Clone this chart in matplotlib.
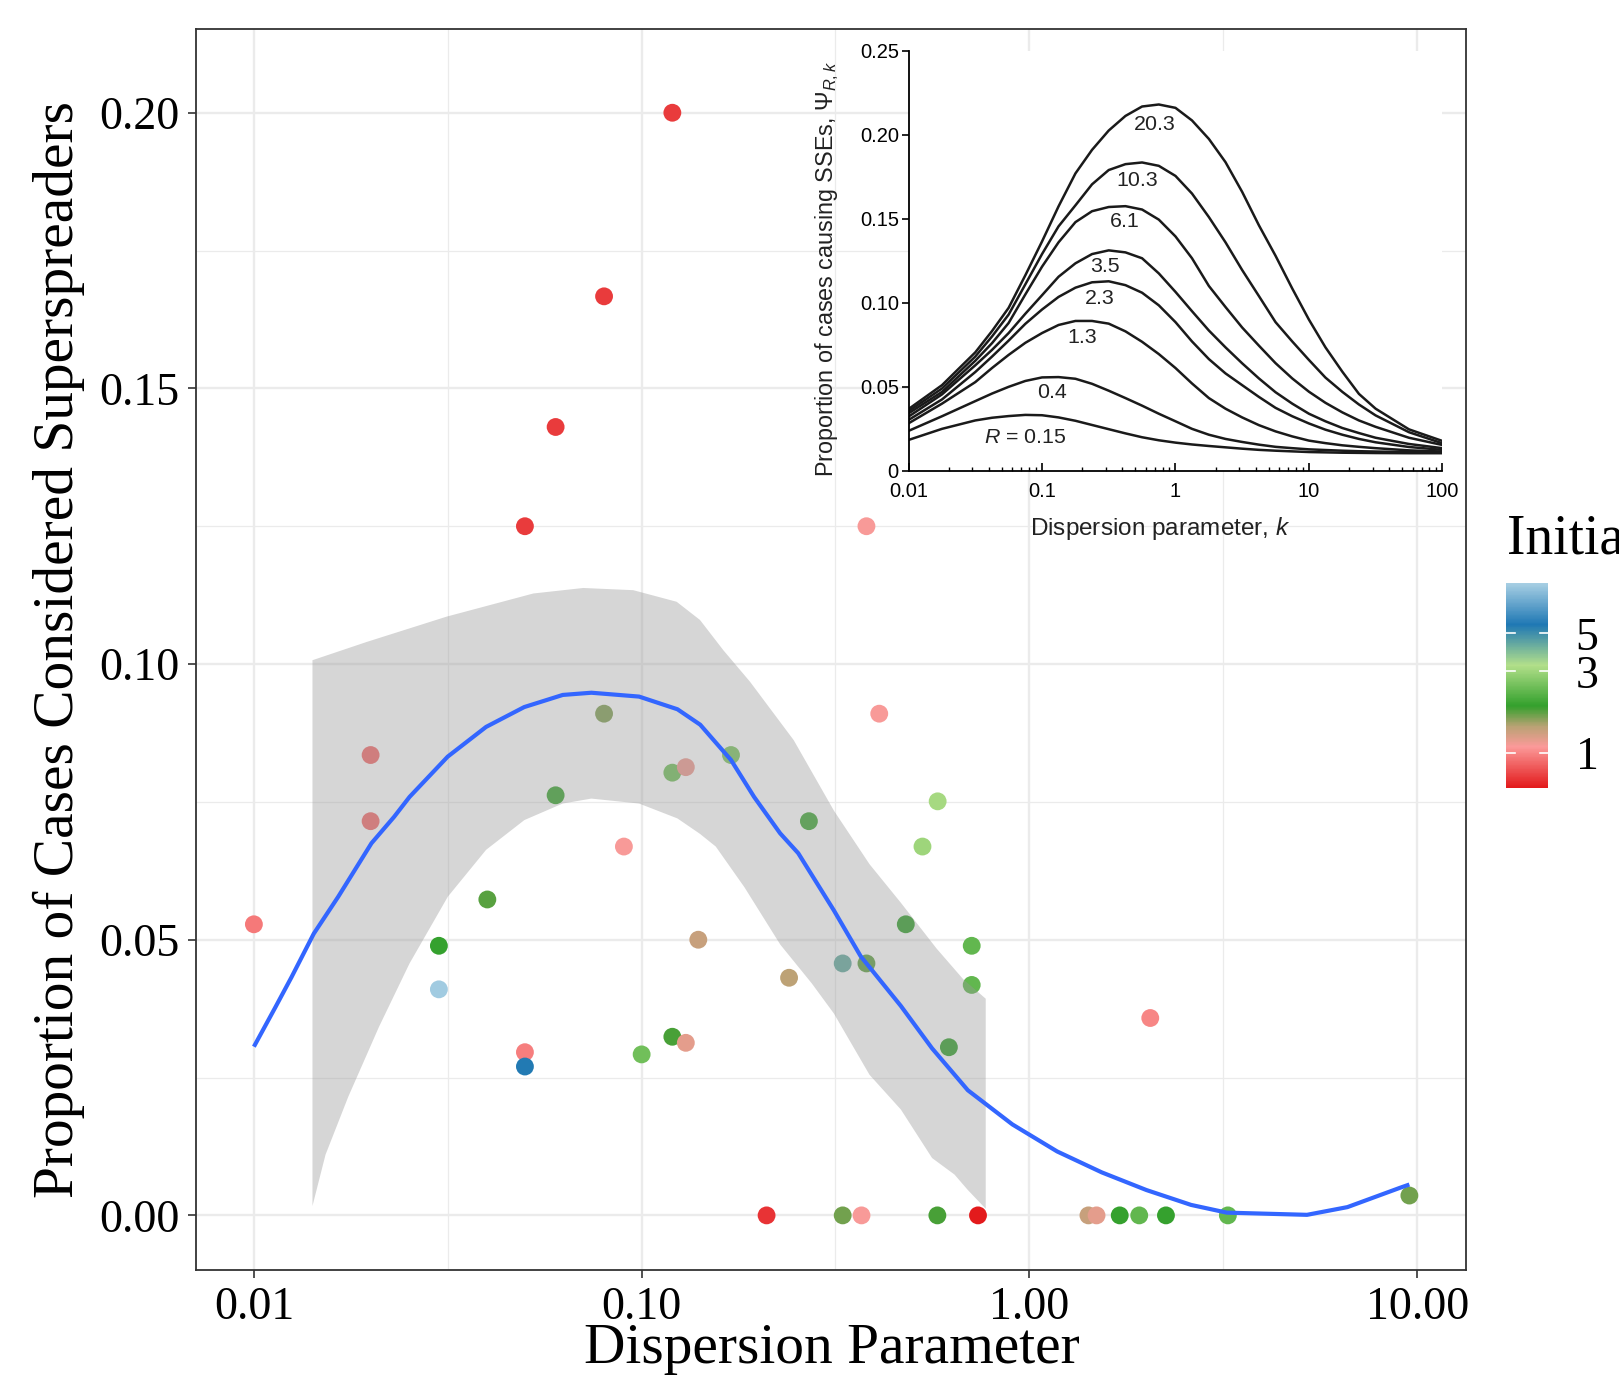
import numpy as np
import matplotlib
matplotlib.use("Agg")
import matplotlib.pyplot as plt
from matplotlib.colors import LinearSegmentedColormap, LogNorm
from matplotlib.ticker import FixedLocator, NullLocator

plt.rcParams["mathtext.fontset"] = "custom"
plt.rcParams["mathtext.rm"] = "Liberation Sans"
plt.rcParams["mathtext.it"] = "Liberation Sans:italic"

SERIF = "Liberation Serif"
SANS = "Liberation Sans"

# ── main scatter: dispersion parameter vs proportion of superspreaders ──
disp_k = [0.010, 0.020, 0.020, 0.030, 0.030, 0.040, 0.050, 0.050, 0.050, 0.060,
          0.060, 0.080, 0.080, 0.090, 0.100, 0.120, 0.120, 0.130, 0.120, 0.130,
          0.140, 0.170, 0.210, 0.240, 0.270, 0.330, 0.330, 0.369, 0.380, 0.380,
          0.410, 0.480, 0.530, 0.580, 0.579, 0.620, 0.710, 0.710, 0.737, 1.42,
          1.49, 1.71, 1.92, 2.05, 2.25, 3.25, 9.55]
prop_ss = [0.0528, 0.0835, 0.0715, 0.0489, 0.0410, 0.0573, 0.1250, 0.0296, 0.0270, 0.1430,
           0.0762, 0.1667, 0.0910, 0.0669, 0.0292, 0.2000, 0.0803, 0.0813, 0.0324, 0.0313,
           0.0500, 0.0835, 0.0000, 0.0431, 0.0715, 0.0457, 0.0000, 0.0000, 0.1250, 0.0457,
           0.0910, 0.0528, 0.0669, 0.0751, 0.0000, 0.0305, 0.0489, 0.0418, 0.0000, 0.0000,
           0.0000, 0.0000, 0.0000, 0.0358, 0.0000, 0.0000, 0.0036]
init_cases = [0.95, 0.90, 0.90, 1.90, 9.50, 1.75, 0.72, 0.97, 5.60, 0.72,
              1.97, 0.72, 1.60, 1.10, 2.47, 0.72, 2.50, 1.15, 1.80, 1.20,
              1.35, 2.60, 0.70, 1.40, 2.00, 4.30, 1.65, 1.10, 1.10, 1.70,
              1.10, 1.90, 3.00, 3.10, 1.80, 1.90, 2.30, 2.30, 0.63, 1.35,
              1.20, 1.90, 2.30, 1.00, 1.90, 2.30, 1.65]

# loess fit and its confidence band
fit_k = [0.0100, 0.01137, 0.0125, 0.01427, 0.0165, 0.0201, 0.0230, 0.0252, 0.0316, 0.0397,
         0.0498, 0.0626, 0.0742, 0.0985, 0.1237, 0.1416, 0.170, 0.195, 0.2276, 0.2534,
         0.3133, 0.3672, 0.4660, 0.561, 0.6938, 0.904, 1.179, 1.537, 2.003, 2.612,
         3.228, 5.20, 6.61, 9.03, 9.55]
fit_y = [0.0306, 0.0378, 0.0432, 0.0511, 0.0578, 0.0675, 0.0723, 0.0759, 0.0832, 0.0886,
         0.0922, 0.0944, 0.0948, 0.0941, 0.0918, 0.0890, 0.0826, 0.0759, 0.0693, 0.0657,
         0.0553, 0.0470, 0.0380, 0.0303, 0.0227, 0.0165, 0.0116, 0.0078, 0.0046, 0.0019,
         0.0005, 0.0001, 0.0015, 0.0050, 0.0056]
band_hi_k = [0.01416, 0.01952, 0.03140, 0.05255, 0.07070, 0.09515, 0.1231, 0.1414, 0.1625,
             0.1903, 0.2467, 0.3133, 0.3870, 0.4662, 0.5763, 0.6757, 0.7716]
band_hi_y = [0.1007, 0.1040, 0.1086, 0.1128, 0.1138, 0.1134, 0.1113, 0.1080, 0.1025,
             0.0968, 0.0862, 0.0734, 0.0637, 0.0567, 0.0484, 0.0428, 0.0393]
band_lo_k = [0.01416, 0.01530, 0.01751, 0.02102, 0.02520, 0.03163, 0.03970, 0.04983, 0.06255,
             0.07418, 0.09854, 0.1237, 0.1414, 0.1553, 0.1842, 0.2279, 0.2745, 0.3133,
             0.3870, 0.4662, 0.5612, 0.6411, 0.6939, 0.7716]
band_lo_y = [0.0017, 0.0110, 0.0215, 0.0342, 0.0457, 0.0578, 0.0663, 0.0717, 0.0747,
             0.0756, 0.0747, 0.0720, 0.0692, 0.0669, 0.0595, 0.0491, 0.0421, 0.0366,
             0.0255, 0.0192, 0.0104, 0.0074, 0.0046, 0.0012]

x_ticks = [0.01, 0.1, 1, 10]
x_ticklabels = ["0.01", "0.10", "1.00", "10.00"]
y_ticks = [0.00, 0.05, 0.10, 0.15, 0.20]
y_ticklabels = ["0.00", "0.05", "0.10", "0.15", "0.20"]
x_minor = [0.0316, 0.316, 3.16]
y_minor = [0.025, 0.075, 0.125, 0.175]

cbar_ticks = [1, 3, 5]

# ── inset: Psi_{R,k} curves ──
inset_k = [0.01, 0.0178, 0.0316, 0.0422, 0.0562, 0.075, 0.1, 0.133, 0.178, 0.237,
           0.316, 0.422, 0.562, 0.75, 1.0, 1.33, 1.78, 2.37, 3.16, 4.22,
           5.62, 7.5, 10, 13.3, 17.8, 23.7, 31.6, 56.2, 100]
psi_015 = [0.0184, 0.0250, 0.0300, 0.0316, 0.0326, 0.0333, 0.0331, 0.0318, 0.0298, 0.0273,
           0.0248, 0.0223, 0.0200, 0.0182, 0.0168, 0.0157, 0.0148, 0.0140, 0.0132, 0.0125,
           0.0120, 0.0116, 0.0112, 0.0110, 0.0108, 0.0107, 0.0106, 0.0105, 0.0105]
psi_04 = [0.0238, 0.0325, 0.0415, 0.0460, 0.0500, 0.0535, 0.0556, 0.0558, 0.0548, 0.0518,
          0.0477, 0.0433, 0.0388, 0.0340, 0.0295, 0.0250, 0.0215, 0.0190, 0.0172, 0.0156,
          0.0143, 0.0135, 0.0128, 0.0124, 0.0120, 0.0117, 0.0115, 0.0112, 0.0111]
psi_13 = [0.0283, 0.0400, 0.0528, 0.0612, 0.0690, 0.0762, 0.0820, 0.0868, 0.0892, 0.0892,
          0.0876, 0.0830, 0.0768, 0.0695, 0.0612, 0.0520, 0.0433, 0.0370, 0.0318, 0.0272,
          0.0235, 0.0205, 0.0180, 0.0165, 0.0152, 0.0143, 0.0135, 0.0122, 0.0115]
psi_23 = [0.0303, 0.0425, 0.0588, 0.0680, 0.0775, 0.0875, 0.0960, 0.1035, 0.1090, 0.1122,
          0.1128, 0.1105, 0.1060, 0.0985, 0.0885, 0.0770, 0.0665, 0.0580, 0.0510, 0.0440,
          0.0375, 0.0325, 0.0282, 0.0245, 0.0215, 0.0190, 0.0170, 0.0142, 0.0125]
psi_35 = [0.0323, 0.0455, 0.0628, 0.0720, 0.0820, 0.0935, 0.1045, 0.1155, 0.1235, 0.1290,
          0.1312, 0.1300, 0.1265, 0.1175, 0.1065, 0.0950, 0.0835, 0.0735, 0.0640, 0.0550,
          0.0468, 0.0400, 0.0340, 0.0295, 0.0255, 0.0225, 0.0197, 0.0160, 0.0135]
psi_61 = [0.0342, 0.0470, 0.0655, 0.0760, 0.0880, 0.1050, 0.1215, 0.1360, 0.1480, 0.1545,
          0.1570, 0.1575, 0.1555, 0.1495, 0.1395, 0.1265, 0.1100, 0.0975, 0.0853, 0.0745,
          0.0641, 0.0550, 0.0471, 0.0405, 0.0348, 0.0300, 0.0262, 0.0197, 0.0154]
psi_103 = [0.0355, 0.0490, 0.0680, 0.0800, 0.0930, 0.1110, 0.1290, 0.1455, 0.1580, 0.1705,
           0.1790, 0.1825, 0.1835, 0.1815, 0.1755, 0.1650, 0.1510, 0.1360, 0.1195, 0.1040,
           0.0885, 0.0770, 0.0660, 0.0555, 0.0470, 0.0395, 0.0330, 0.0230, 0.0164]
psi_203 = [0.0368, 0.0510, 0.0705, 0.0832, 0.0970, 0.1164, 0.1365, 0.1574, 0.1770, 0.1910,
           0.2025, 0.2112, 0.2168, 0.2180, 0.2160, 0.2085, 0.1975, 0.1837, 0.1660, 0.1461,
           0.1280, 0.1085, 0.0900, 0.0735, 0.0590, 0.0458, 0.0370, 0.0247, 0.0178]
inset_curves = [psi_015, psi_04, psi_13, psi_23, psi_35, psi_61, psi_103, psi_203]
curve_labels = [r"$R$ = 0.15", "0.4", "1.3", "2.3", "3.5", "6.1", "10.3", "20.3"]
label_k = [0.0746, 0.1186, 0.199, 0.270, 0.297, 0.420, 0.514, 0.705]
label_y = [0.0198, 0.0467, 0.0792, 0.1026, 0.1214, 0.1481, 0.1728, 0.2059]

# ── colour scale (log-scaled, Paired palette reversed) ──
cmap = LinearSegmentedColormap.from_list(
    "paired_rev",
    [(0.0, "#E31A1C"), (0.2, "#FB9A99"), (0.3, "#B9A274"), (0.4, "#33A02C"),
     (0.6, "#B2DF8A"), (0.8, "#1F78B4"), (1.0, "#A6CEE3")])
norm = LogNorm(vmin=0.625, vmax=9.8)

fig = plt.figure(figsize=(16.19, 13.78), dpi=100)
ax = fig.add_axes([0.1212, 0.0784, 0.7844, 0.9006])

sc = ax.scatter(disp_k, prop_ss, c=init_cases, cmap=cmap, norm=norm, s=165,
                edgecolors="none", zorder=2)
band_x = np.r_[band_hi_k, band_lo_k[::-1]]
band_y = np.r_[band_hi_y, band_lo_y[::-1]]
ax.fill(band_x, band_y, color="#999999", alpha=0.4, lw=0, zorder=3)
ax.plot(fit_k, fit_y, color="#3366FF", lw=3, zorder=4, solid_capstyle="butt",
        solid_joinstyle="round")

ax.set_xscale("log")
ax.set_xlim(0.0071, 13.38)
ax.set_ylim(-0.0099, 0.2152)
ax.set_xticks(x_ticks)
ax.set_xticklabels(x_ticklabels, fontsize=33, family=SERIF)
ax.set_yticks(y_ticks)
ax.set_yticklabels(y_ticklabels, fontsize=33, family=SERIF)
ax.xaxis.set_minor_locator(FixedLocator(x_minor))
ax.yaxis.set_minor_locator(FixedLocator(y_minor))
ax.tick_params(which="major", length=6, width=1.2, color="#333333", pad=6)
ax.tick_params(which="minor", length=0)
ax.grid(which="major", color="#EBEBEB", lw=1.7, zorder=0)
ax.grid(which="minor", color="#EBEBEB", lw=0.9, zorder=0)
ax.set_axisbelow(True)
for sp in ax.spines.values():
    sp.set_color("#333333")
    sp.set_linewidth(1.3)

fig.text(0.0364, 0.5287, "Proportion of Cases Considered Superspreaders",
         rotation=90, ha="center", va="center", fontsize=41.3, family=SERIF)
fig.text(0.5136, 0.0112, "Dispersion Parameter", ha="center", va="baseline",
         fontsize=41.3, family=SERIF)

# legend (colour bar) – title runs off the right edge as in the original
fig.text(0.9308, 0.598, "Initial Cases", ha="left", va="baseline",
         fontsize=40, family=SERIF)
cax = fig.add_axes([0.9305, 0.4283, 0.0255, 0.1483])
cbar = fig.colorbar(sc, cax=cax)
cbar.outline.set_visible(False)
cax.yaxis.set_minor_locator(NullLocator())
cax.set_yticks(cbar_ticks)
cax.set_yticklabels([str(t) for t in cbar_ticks], fontsize=33, family=SERIF)
cax.tick_params(length=0, pad=20)
for t in cbar_ticks:
    cax.plot([0, 0.2], [t, t], color="white", lw=1.2, transform=cax.get_yaxis_transform())
    cax.plot([0.8, 1.0], [t, t], color="white", lw=1.2, transform=cax.get_yaxis_transform())

# inset figure
axi = fig.add_axes([0.5612, 0.6583, 0.3297, 0.3049], zorder=5)
axi.set_facecolor("white")
for curve in inset_curves:
    axi.plot(inset_k, curve, color="#1A1A1A", lw=1.8, solid_joinstyle="round")
for txt, lk, ly in zip(curve_labels, label_k, label_y):
    axi.text(lk, ly, txt, ha="center", va="center", fontsize=15.4, family=SANS,
             color="#222222")
axi.set_xscale("log")
axi.set_xlim(0.01, 100)
axi.set_ylim(0, 0.25)
axi.set_xticks([0.01, 0.1, 1, 10, 100])
axi.set_xticklabels(["0.01", "0.1", "1", "10", "100"], fontsize=14.5, family=SANS)
axi.set_yticks([0, 0.05, 0.10, 0.15, 0.20, 0.25])
axi.set_yticklabels(["0", "0.05", "0.10", "0.15", "0.20", "0.25"], fontsize=14.5, family=SANS)
axi.tick_params(axis="x", which="major", direction="in", length=6, width=1.2, pad=8)
axi.tick_params(axis="x", which="minor", direction="in", length=3, width=1.0)
axi.tick_params(axis="y", direction="out", length=5, width=1.2, pad=2)
axi.spines["top"].set_visible(False)
axi.spines["right"].set_visible(False)
axi.spines["left"].set_linewidth(1.3)
axi.spines["bottom"].set_linewidth(1.3)
axi.text(0.472, -0.1376, "Dispersion parameter, $k$", transform=axi.transAxes,
         ha="center", va="center", fontsize=17.5, family=SANS, color="#222222")
axi.text(-0.153, 0.481, r"Proportion of cases causing SSEs, $\Psi_{R,k}$",
         transform=axi.transAxes, rotation=90, ha="center", va="center",
         fontsize=16.8, family=SANS, color="#222222")

fig.savefig("out.png", dpi=100)
